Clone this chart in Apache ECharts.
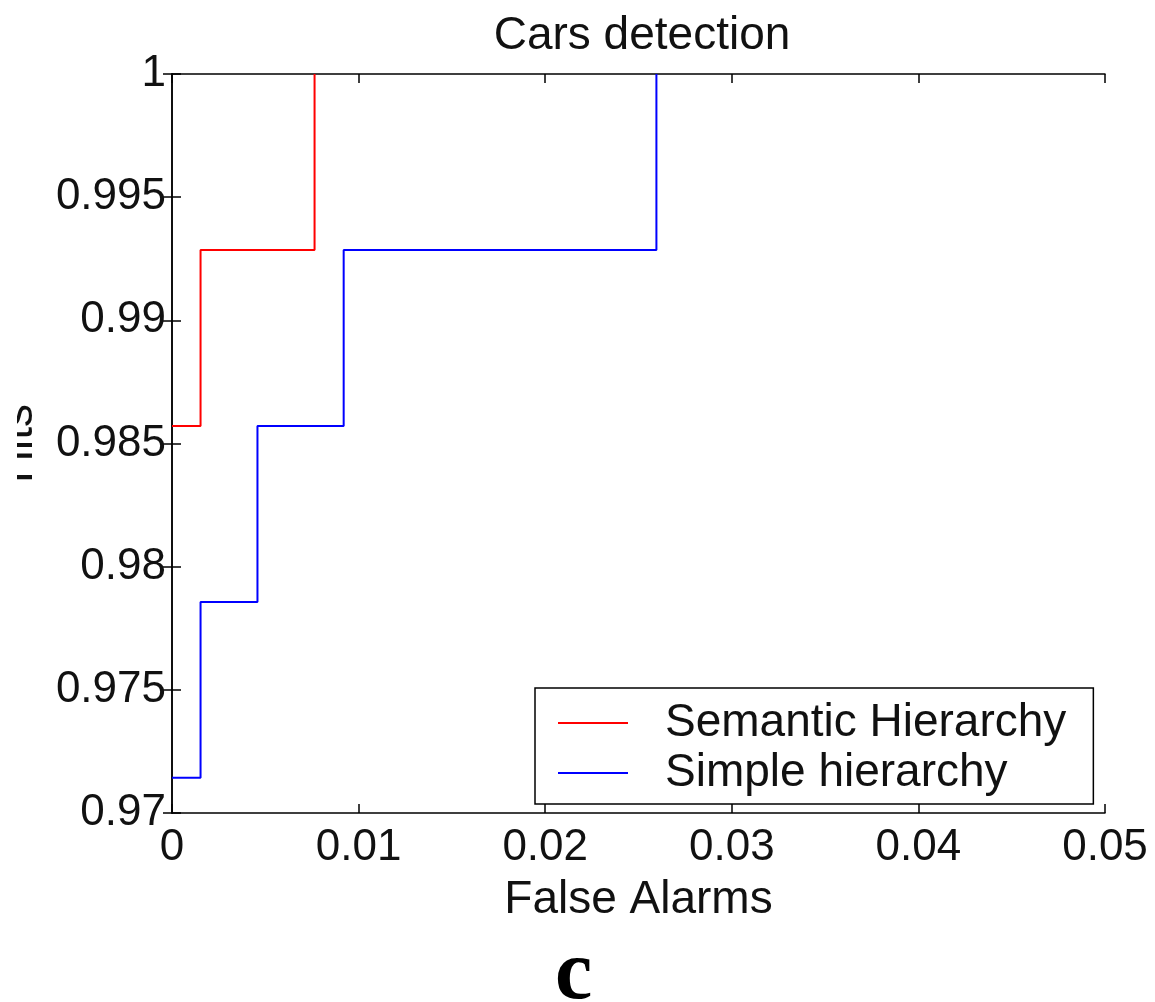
<!DOCTYPE html>
<html>
<head>
<meta charset="utf-8">
<script src="https://cdn.jsdelivr.net/npm/echarts@6/dist/echarts.min.js"></script>
<style>
html,body{margin:0;padding:0;background:#fff;}
#chart{width:1155px;height:1002px;}
</style>
</head>
<body>
<div id="chart"></div>
<script>
const titleText = 'Cars detection';
const xName = 'False Alarms';
const yName = 'Hits';
const panelLetter = 'c';
const seriesNames = ['Semantic Hierarchy', 'Simple hierarchy'];
const redX = [0, 0.00153, 0.00764];
const redY = [0.98571, 0.99286, 1.0];
const blueX = [0, 0.00153, 0.00458, 0.0092, 0.02596];
const blueY = [0.97143, 0.97857, 0.98571, 0.99286, 1.0];
const xMin = 0, xMax = 0.05, xStep = 0.01;
const yMin = 0.97, yMax = 1.0, yStep = 0.005;

const FONT = 'Liberation Sans, Arial, sans-serif';
const chart = echarts.init(document.getElementById('chart'));
const pairs = (xs, ys) => xs.map((x, i) => [x, ys[i]]);
const fmt = v => String(parseFloat(v.toFixed(4)));

const axisCommon = {
  axisLine: {show: true, lineStyle: {color: '#000', width: 1.5}},
  axisTick: {show: true, inside: true, length: 9, lineStyle: {color: '#000', width: 1.5}},
  splitLine: {show: false}
};

chart.setOption({
  backgroundColor: '#fff',
  animation: false,
  title: {
    text: titleText, left: 637, top: 8, textAlign: 'center',
    textStyle: {fontFamily: FONT, fontSize: 46, fontWeight: 'normal', color: '#111'}
  },
  graphic: [
    {
      type: 'text', left: 555, top: 934,
      style: {text: panelLetter, font: 'bold 84px "Liberation Serif", serif', fill: '#000'}
    },
    {
      type: 'rect', left: 0, top: 380, z: 100,
      shape: {width: 17, height: 130},
      style: {fill: '#fff'}
    }
  ],
  grid: {left: 172, right: 50, top: 74, bottom: 189, containLabel: false, outerBoundsMode: 'none'},
  legend: {
    orient: 'vertical', left: 535, top: 688,
    padding: [12, 27, 8, 23],
    itemWidth: 70, itemHeight: 2, itemGap: 4,
    icon: 'rect',
    borderColor: '#000', borderWidth: 1.5, backgroundColor: '#fff',
    textStyle: {fontFamily: FONT, fontSize: 46, color: '#111', padding: [0, 0, 0, 32]},
    data: seriesNames
  },
  xAxis: [
    Object.assign({
      type: 'value', min: xMin, max: xMax, interval: xStep, position: 'bottom',
      name: xName, nameLocation: 'middle', nameGap: 64,
      nameTextStyle: {fontFamily: FONT, fontSize: 46, color: '#111'},
      axisLabel: {fontFamily: FONT, fontSize: 44, color: '#111', margin: 13, formatter: fmt}
    }, axisCommon),
    Object.assign({
      type: 'value', min: xMin, max: xMax, interval: xStep, position: 'top',
      axisLabel: {show: false}
    }, axisCommon)
  ],
  yAxis: [
    Object.assign({
      type: 'value', min: yMin, max: yMax, interval: yStep, position: 'left',
      name: yName, nameLocation: 'middle', nameGap: 130, nameRotate: 90,
      nameTextStyle: {fontFamily: FONT, fontSize: 46, color: '#111'},
      axisLabel: {fontFamily: FONT, fontSize: 44, color: '#111', margin: 6, formatter: fmt}
    }, axisCommon),
    Object.assign({
      type: 'value', min: yMin, max: yMax, interval: yStep, position: 'right',
      axisLabel: {show: false}
    }, axisCommon)
  ],
  series: [
    {
      name: seriesNames[0], type: 'line', step: 'end', symbol: 'none',
      data: pairs(redX, redY), color: '#ff0000',
      lineStyle: {color: '#ff0000', width: 2}
    },
    {
      name: seriesNames[1], type: 'line', step: 'end', symbol: 'none',
      data: pairs(blueX, blueY), color: '#0000ff',
      lineStyle: {color: '#0000ff', width: 2}
    }
  ]
});
</script>
</body>
</html>
